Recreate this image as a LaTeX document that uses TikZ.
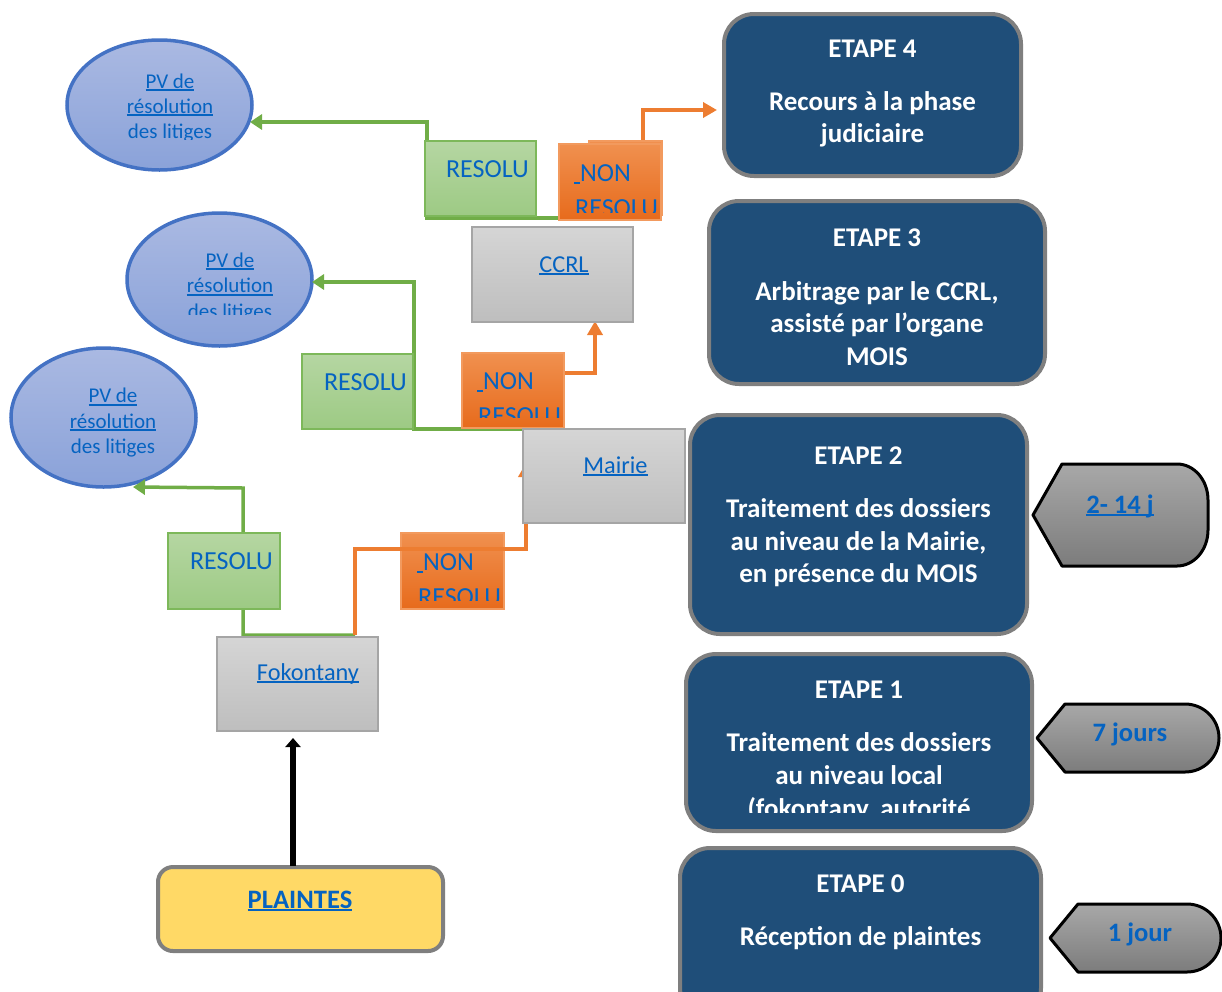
\documentclass[tikz,border=0pt]{standalone}
\usepackage{fontspec}
\setmainfont{Carlito}
\usetikzlibrary{arrows.meta,shapes.geometric}
\definecolor{etapec}{HTML}{1F4E79}
\definecolor{bord}{HTML}{7F7F7F}
\definecolor{lnk}{HTML}{0563C1}
\definecolor{gA}{HTML}{B5D6A2}
\definecolor{gB}{HTML}{9DCA84}
\definecolor{gline}{HTML}{70AD47}
\definecolor{gedge}{HTML}{7DB85A}
\definecolor{oA}{HTML}{F0904F}
\definecolor{oB}{HTML}{E76B1C}
\definecolor{oline}{HTML}{ED7D31}
\definecolor{oedge}{HTML}{F29A5E}
\definecolor{grA}{HTML}{D5D5D5}
\definecolor{grB}{HTML}{BEBEBE}
\definecolor{gredge}{HTML}{A5A5A5}
\definecolor{eA}{HTML}{AAB9E2}
\definecolor{eB}{HTML}{8AA2D9}
\definecolor{eedge}{HTML}{4472C4}
\definecolor{tA}{HTML}{A8A8A8}
\definecolor{tB}{HTML}{7C7C7C}
\definecolor{yel}{HTML}{FFD966}
\newcommand{\ulk}[1]{\setbox0\hbox{#1}\rlap{\rule[-3pt]{\wd0}{1.6pt}}\box0}
\tikzset{
  etapebox/.style={draw=bord, line width=4pt, fill=etapec, rounded corners=30pt, inner sep=0},
  graybox/.style={draw=gredge, line width=1.2pt, top color=grA, bottom color=grB, inner sep=0},
  greenbox/.style={draw=gedge, line width=1.2pt, top color=gA, bottom color=gB, inner sep=0},
  orangebox/.style={draw=oedge, line width=1.2pt, top color=oA, bottom color=oB, inner sep=0},
  pvell/.style={ellipse, draw=eedge, line width=3.5pt, top color=eA, bottom color=eB, inner sep=0},
  tagshape/.style={draw=black, line width=3pt, top color=tA, bottom color=tB, line join=round},
  wt/.style={text=white, font=\bfseries\fontsize{27}{31}\selectfont, anchor=base, inner sep=0},
  bt/.style={text=lnk, font=\fontsize{26}{30}\selectfont, anchor=base, inner sep=0},
  gt/.style={text=lnk, font=\fontsize{24.3}{29}\selectfont, anchor=base, inner sep=0},
  btw/.style={text=lnk, font=\fontsize{26}{30}\selectfont, anchor=base west, inner sep=0},
  ept/.style={text=lnk, font=\fontsize{21}{25}\selectfont, anchor=base, inner sep=0},
  tagt/.style={text=lnk, font=\bfseries\fontsize{26.6}{30}\selectfont, anchor=base, inner sep=0},
  gconn/.style={draw=gline, line width=3.5pt, -{Triangle[length=12pt,width=15pt]}},
  oconn/.style={draw=oline, line width=3.5pt, -{Triangle[length=14pt,width=15pt]}},
}
\begin{document}
\begin{tikzpicture}[x=1pt,y=-1pt]
\path[use as bounding box] (0,0) rectangle (1222,991);
\clip (0,0) rectangle (1222,991);

% ellipses
\node[pvell, minimum width=185pt, minimum height=130pt] (pv1) at (159.5,105) {};
\node[pvell, minimum width=185pt, minimum height=133pt] (pv2) at (219.5,279.5) {};
\node[pvell, minimum width=185pt, minimum height=139pt] (pv3) at (103.5,417.5) {};
\node[ept] (pv1a) at (170,88) {\ulk{PV de}};
\node[ept] (pv1b) at (170,113) {\ulk{résolution}};
\begin{scope}\clip (60,120) rectangle (260,139);
\node[ept] (pv1c) at (170,138.5) {des litiges};
\end{scope}
\node[ept] (pv2a) at (230,267) {\ulk{PV de}};
\node[ept] (pv2b) at (230,292.5) {\ulk{résolution}};
\begin{scope}\clip (120,296) rectangle (320,314);
\node[ept] (pv2c) at (230,318) {des litiges};
\end{scope}
\node[ept] (pv3a) at (113,402.5) {\ulk{PV de}};
\node[ept] (pv3b) at (113,428) {\ulk{résolution}};
\begin{scope}\clip (0,432) rectangle (200,456);
\node[ept] (pv3c) at (113,453) {des litiges};
\end{scope}

% connectors behind boxes
\coordinate (ga1) at (570,218); \coordinate (ga2) at (427,218); \coordinate (ga3) at (427,122); \coordinate (ga4) at (250,122);
\draw[gconn] (ga1) -- (ga2) -- (ga3) -- (ga4);
\coordinate (gb1) at (525,429); \coordinate (gb2) at (414,429); \coordinate (gb3) at (414,282); \coordinate (gb4) at (312,282);
\draw[gconn] (gb1) -- (gb2) -- (gb3) -- (gb4);
\coordinate (gc1) at (355,635); \coordinate (gc2) at (243,635); \coordinate (gc3) at (243,488); \coordinate (gc4) at (133,487);
\draw[gconn] (gc1) -- (gc2) -- (gc3) -- (gc4);
\coordinate (oa1) at (643,160); \coordinate (oa2) at (643,110); \coordinate (oa3) at (717,110);
\draw[oconn] (oa1) -- (oa2) -- (oa3);
\coordinate (ob1) at (540,400); \coordinate (ob2) at (540,373); \coordinate (ob3) at (595,373); \coordinate (ob4) at (595,321);
\draw[oconn] (ob1) -- (ob2) -- (ob3) -- (ob4);

% gray boxes
\node[graybox, minimum width=161pt, minimum height=95pt] (ccrl) at (552.5,274.5) {};
\node[gt] (ccrlt) at (564,272) {\ulk{CCRL}};
\node[graybox, minimum width=161pt, minimum height=94pt] (fok) at (297.5,684) {};
\node[gt] (fokt) at (308,680) {\ulk{Fokontany}};

% green boxes
\node[greenbox, minimum width=111pt, minimum height=75pt] (r1) at (480.5,178.5) {};
\node[bt] (r1t) at (487.5,177) {RESOLU};
\node[greenbox, minimum width=111pt, minimum height=75pt] (r2) at (357.5,391.5) {};
\node[bt] (r2t) at (365.5,390) {RESOLU};
\node[greenbox, minimum width=112pt, minimum height=76pt] (r3) at (224,571) {};
\node[bt] (r3t) at (231.5,569) {RESOLU};

% orange boxes
\node[orangebox, minimum width=73pt, minimum height=74pt] (n1b) at (625.5,178) {};
\node[orangebox, minimum width=102pt, minimum height=76pt] (n1) at (610,182) {};
\node[btw] (n1t) at (574,181) {\ulk{\ }NON};
\begin{scope}\clip (560,190) rectangle (662,212);
\node[btw] (n1u) at (575,216) {RESOLU};
\end{scope}
\node[orangebox, minimum width=102pt, minimum height=75pt] (n2) at (513,390.5) {};
\node[btw] (n2t) at (477,389) {\ulk{\ }NON};
\begin{scope}\clip (462,400) rectangle (564,417);
\node[btw] (n2u) at (478,424) {RESOLU};
\end{scope}
\node[orangebox, minimum width=103pt, minimum height=76pt] (n3) at (452.5,571) {};
\node[btw] (n3t) at (417,570) {\ulk{\ }NON};
\begin{scope}\clip (402,580) rectangle (503,600);
\node[btw] (n3u) at (418,605) {RESOLU};
\end{scope}

% orange connector over the lower box, under Mairie
\coordinate (oc1) at (355,635); \coordinate (oc2) at (355,549); \coordinate (oc3) at (526,549); \coordinate (oc4) at (526,463);
\draw[oconn] (oc1) -- (oc2) -- (oc3) -- (oc4);

\node[graybox, minimum width=162pt, minimum height=94pt] (mairie) at (604,476) {};
\node[gt] (mairiet) at (615.5,473) {\ulk{Mairie}};

% etape boxes
\node[etapebox, minimum width=297pt, minimum height=162pt] (e4) at (872.5,95) {};
\node[wt] (e4a) at (872.5,57) {ETAPE 4};
\node[wt] (e4b) at (872.5,110) {Recours à la phase};
\node[wt] (e4c) at (872.5,142) {judiciaire};

\node[etapebox, minimum width=336pt, minimum height=183pt] (e3) at (877,292.5) {};
\node[wt] (e3a) at (877,246) {ETAPE 3};
\node[wt] (e3b) at (877,300) {Arbitrage par le CCRL,};
\node[wt] (e3c) at (877,332.5) {assisté par l’organe};
\node[wt] (e3d) at (877,365) {MOIS};

\node[etapebox, minimum width=337pt, minimum height=219pt] (e2) at (858.5,524.5) {};
\node[wt] (e2a) at (858.5,464) {ETAPE 2};
\node[wt] (e2b) at (858.5,517) {Traitement des dossiers};
\node[wt] (e2c) at (858.5,550) {au niveau de la Mairie,};
\node[wt] (e2d) at (858.5,582) {en présence du MOIS};

\node[etapebox, minimum width=346pt, minimum height=177pt] (e1) at (859,742.5) {};
\node[wt] (e1a) at (859,698) {ETAPE 1};
\node[wt] (e1b) at (859,751) {Traitement des dossiers};
\node[wt] (e1c) at (859,784) {au niveau local};
\begin{scope}\clip (690,790) rectangle (1030,812);
\node[wt] (e1d) at (859,817) {(fokontany, autorité};
\end{scope}

\node[etapebox, minimum width=361pt, minimum height=170pt] (e0) at (860.5,933) {};
\node[wt] (e0a) at (860.5,892) {ETAPE 0};
\node[wt] (e0b) at (860.5,945) {Réception de plaintes};

% tags
\path[tagshape] (1033,515) -- (1062,464) -- (1177,464) arc[start angle=90,end angle=0,x radius=31pt,y radius=36pt] -- (1208,530) arc[start angle=0,end angle=-90,x radius=31pt,y radius=36pt] -- (1062,566) -- cycle;
\node[tagt] (t2) at (1120,513) {\ulk{2- 14 j}};
\path[tagshape] (1037,738) -- (1065,704) -- (1185,704) arc[start angle=90,end angle=-90,x radius=34pt,y radius=34pt] -- (1065,772) -- cycle;
\node[tagt] (t1) at (1130,741) {7 jours};
\path[tagshape] (1050,938) -- (1078,904) -- (1187,904) arc[start angle=90,end angle=-90,x radius=34pt,y radius=34pt] -- (1078,972) -- cycle;
\node[tagt] (t0) at (1140,941) {1 jour};

% plaintes
\node[draw=bord, line width=4pt, fill=yel, rounded corners=15pt, minimum width=285pt, minimum height=84pt, inner sep=0] (pl) at (300.5,909) {};
\node[tagt] (plt) at (300,908) {\ulk{PLAINTES}};
\coordinate (pa1) at (293,866); \coordinate (pa2) at (293,738);
\draw[line width=5.5pt, -{Triangle[length=9pt,width=15pt]}] (pa1) -- (pa2);
\end{tikzpicture}
\end{document}
